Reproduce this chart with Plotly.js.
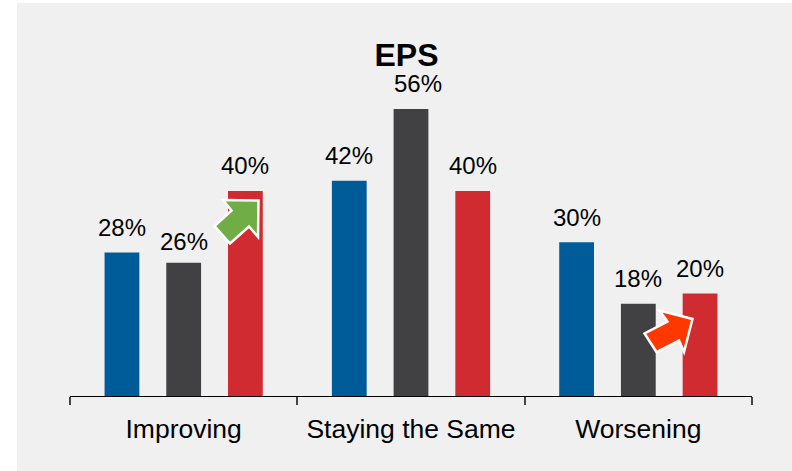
<!DOCTYPE html>
<html>
<head>
<meta charset="utf-8">
<script src="https://cdn.plot.ly/plotly-3.0.1.min.js"></script>
<style>html,body{margin:0;padding:0;background:#fff}</style>
</head>
<body>
<div id="chart" style="width:792px;height:471px"></div>
<script>
// EPS outlook: three periods compared across three outcome groups
const categories = ["Improving", "Staying the Same", "Worsening"];
const seriesA = [28, 42, 30];
const seriesB = [26, 56, 18];
const seriesC = [40, 40, 20];
const seriesColors = ["#005C99", "#414042", "#D12B32"];
const chartTitle = "EPS";

const W = 792, H = 471;
const margin = {l: 70, r: 40, t: 40, b: 75};
const slot = 0.2715;

// Pixel helpers for the decorative arrows and the background panel
const px = x => (x - margin.l) / (W - margin.l - margin.r);
const py = y => 1 - (y - margin.t) / (H - margin.t - margin.b);
const polygon = pts => "M" + pts.map(p => px(p[0]) + "," + py(p[1])).join("L") + "Z";

const greenArrow = [[223,200],[258.5,200.5],[258,237],[249,226.5],[230,243.5],[214.5,226],[231.5,210.5]];
const redArrow = [[659.5,310.5],[692.5,319],[684,352],[679,340.5],[656.5,352],[644.5,333.5],[667.5,321.5]];

const series = [seriesA, seriesB, seriesC];
const traces = series.map((values, s) => ({
  type: "bar",
  x: categories,
  y: values,
  marker: {color: seriesColors[s], line: {width: 0}},
  hoverinfo: "x+y",
  showlegend: false
}));

// Value labels sit above each bar; a few are nudged clear of the title and arrows
const nudges = {"1,1": {x: 7, y: 0}, "1,0": {x: 0, y: -4}};
const annotations = [];
series.forEach((values, s) => values.forEach((v, i) => {
  const n = nudges[s + "," + i] || {x: 0, y: 0};
  annotations.push({
    xref: "x", yref: "y",
    x: i + (s - 1) * slot,
    y: v,
    text: v + "%",
    showarrow: false,
    yanchor: "middle",
    xshift: n.x,
    yshift: 25 + n.y,
    font: {family: "Liberation Sans, Arial, sans-serif", size: 24, color: "#000"}
  });
}));

const layout = {
  width: W, height: H,
  margin: margin,
  paper_bgcolor: "#ffffff",
  plot_bgcolor: "rgba(0,0,0,0)",
  barmode: "group",
  bargap: 0.1855,
  bargroupgap: 0.4365,
  title: {
    text: "<b>" + chartTitle + "</b>",
    x: 406.5 / W, xref: "container", xanchor: "center",
    y: 1 - 55 / H, yref: "container", yanchor: "middle",
    font: {family: "Liberation Sans, Arial, sans-serif", size: 32, color: "#000"}
  },
  xaxis: {
    type: "category",
    range: [-0.5, 2.5],
    tickson: "boundaries",
    ticks: "outside",
    ticklen: 8,
    tickwidth: 1.5,
    tickcolor: "#444",
    showline: true,
    linecolor: "#000",
    linewidth: 1,
    showgrid: false,
    zeroline: false,
    fixedrange: true,
    ticklabelstandoff: 9,
    tickfont: {family: "Liberation Sans, Arial, sans-serif", size: 26.5, color: "#000"}
  },
  yaxis: {
    range: [0, 69.46],
    visible: false,
    fixedrange: true
  },
  annotations: annotations,
  shapes: [
    {type: "rect", xref: "paper", yref: "paper", layer: "below",
     x0: px(17), x1: px(W), y0: py(3), y1: py(H),
     fillcolor: "#F0F0F0", line: {width: 0}},
    {type: "path", xref: "paper", yref: "paper", layer: "above", path: polygon(greenArrow),
     fillcolor: "#70AD47", line: {color: "#fff", width: 2.5}},
    {type: "path", xref: "paper", yref: "paper", layer: "above", path: polygon(redArrow),
     fillcolor: "#FF3700", line: {color: "#fff", width: 2.5}}
  ]
};

Plotly.newPlot("chart", traces, layout, {displayModeBar: false, responsive: false});
</script>
</body>
</html>
